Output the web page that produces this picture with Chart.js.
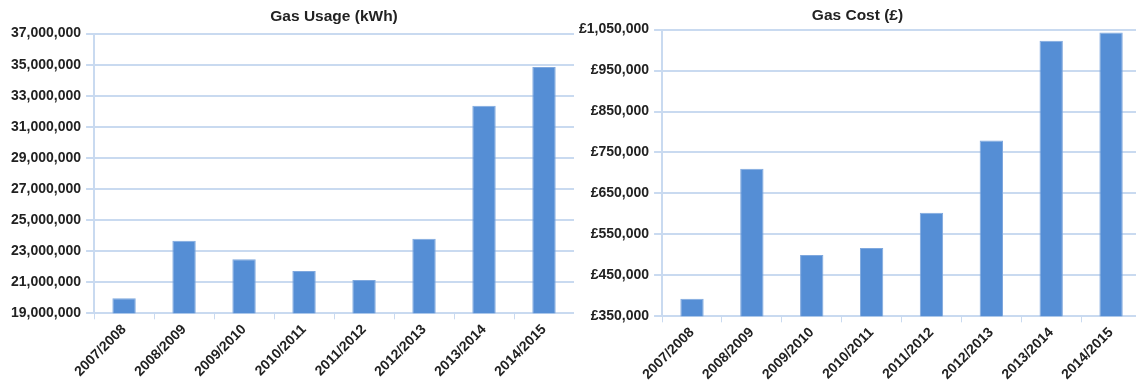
<!DOCTYPE html>
<html>
<head>
<meta charset="utf-8">
<script src="https://cdn.jsdelivr.net/npm/chart.js@4/dist/chart.umd.min.js"></script>
<style>
    body { margin: 0; background: #fff; width: 1136px; height: 382px; overflow: hidden; position: relative; }
    .box { position: absolute; top: 0; }
    #usageBox { left: 0; width: 574px; height: 382px; }
    #costBox { left: 566px; width: 575px; height: 385px; }
</style>
</head>
<body>
<div class="box" id="usageBox"><canvas id="usageChart"></canvas></div>
<div class="box" id="costBox"><canvas id="costChart"></canvas></div>
<script>
const seasons = ['2007/2008', '2008/2009', '2009/2010', '2010/2011', '2011/2012', '2012/2013', '2013/2014', '2014/2015'];
const usageKwh = [19970000, 23670000, 22480000, 21730000, 21150000, 23800000, 32350000, 34850000];
const costGbp = [393000, 710000, 500000, 517000, 603000, 779000, 1023000, 1043000];

const usageTicks = { min: 19000000, max: 37000000, step: 2000000 };
const costTicks = { min: 350000, max: 1050000, step: 100000 };

const barColor = '#558ED5';
const gridColor = '#C9DAF0';
const textColor = '#222222';
const fontFamily = "'Liberation Sans', Arial, sans-serif";

const makeChart = (canvasId, title, values, range, formatTick, padding, titlePadding, titleOverPlot) => {
    const ctx = document.getElementById(canvasId).getContext('2d');
    return new Chart(ctx, {
        type: 'bar',
        data: {
            labels: seasons,
            datasets: [{
                label: title,
                data: values,
                backgroundColor: barColor,
                borderColor: '#7FA8DE',
                borderWidth: 1,
                categoryPercentage: 1,
                barPercentage: 0.39
            }]
        },
        options: {
            responsive: true,
            maintainAspectRatio: false,
            animation: false,
            layout: { padding: padding },
            plugins: {
                legend: { display: false },
                tooltip: { enabled: false },
                title: {
                    display: true,
                    text: title,
                    color: textColor,
                    fullSize: !titleOverPlot,
                    font: { family: fontFamily, size: 15.5, weight: 'bold' },
                    padding: titlePadding
                }
            },
            scales: {
                x: {
                    grid: {
                        offset: true,
                        drawOnChartArea: false,
                        color: gridColor,
                        tickLength: 6
                    },
                    border: { color: gridColor, width: 2 },
                    ticks: {
                        color: textColor,
                        minRotation: 45,
                        maxRotation: 45,
                        padding: 2,
                        font: { family: fontFamily, size: 14, weight: 'bold' }
                    }
                },
                y: {
                    min: range.min,
                    max: range.max,
                    grid: { color: gridColor, lineWidth: 2, tickLength: 8 },
                    border: { color: gridColor, width: 2 },
                    ticks: {
                        stepSize: range.step,
                        color: textColor,
                        padding: 5,
                        font: { family: fontFamily, size: 14, weight: 'bold' },
                        callback: formatTick
                    }
                }
            }
        }
    });
};

const usageChart = makeChart('usageChart', 'Gas Usage (kWh)', usageKwh, usageTicks,
    (value) => value.toLocaleString('en-GB'),
    { left: 6, right: 0, top: 3, bottom: 0 }, { top: 4, bottom: 8 }, true);

const costChart = makeChart('costChart', 'Gas Cost (£)', costGbp, costTicks,
    (value) => '£' + value.toLocaleString('en-GB'),
    { left: 8, right: 0, top: 2, bottom: 0 }, { top: 4, bottom: 5 }, false);
</script>
</body>
</html>
